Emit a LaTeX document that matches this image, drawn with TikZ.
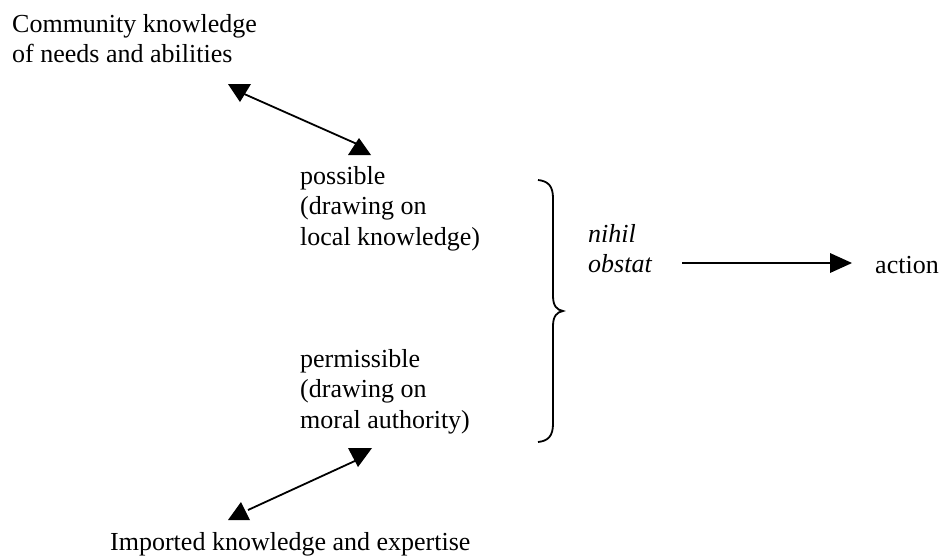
\documentclass[tikz,border=0pt]{standalone}
\usepackage{fontspec}
\setmainfont{Liberation Serif}
\begin{document}
\begin{tikzpicture}[x=1pt,y=-1pt,
  txt/.style={anchor=north west,inner sep=0pt,align=left,font=\fontsize{26}{30.5}\selectfont},
  conn/.style={line width=1.8pt},
  head/.style={fill=black,draw=none}]
\useasboundingbox (0,0) rectangle (942,558);
\node[txt] (comm) at (12,10.65) {\strut Community knowledge\\of needs and abilities};
\node[txt] (poss) at (300,162.65) {\strut possible\\(drawing on\\local knowledge)};
\node[txt] (perm) at (300,345.65) {\strut permissible\\(drawing on\\moral authority)};
\node[txt,font=\fontsize{26}{30}\selectfont\itshape] (nihil) at (588,221.65) {\strut nihil\\obstat};
\node[txt,anchor=base west] (action) at (875,273) {action};
\node[txt,anchor=base west] (imp) at (110,550) {Imported knowledge and expertise};
% connector end points
\coordinate (a1) at (242,93);
\coordinate (a2) at (357,144);
\coordinate (b1) at (357,460);
\coordinate (b2) at (248,510);
\coordinate (c1) at (682,263);
\coordinate (c2) at (831,263);
\draw[conn] (a1) -- (a2);
\draw[conn] (b1) -- (b2);
\draw[conn] (c1) -- (c2);
% arrowheads
\fill[head] (228,84) -- (251,84) -- (240,102) -- cycle;
\fill[head] (348,155) -- (371,155) -- (359,138) -- cycle;
\fill[head] (348,448) -- (372,448) -- (358,467) -- cycle;
\fill[head] (228,520) -- (250,520) -- (241,502) -- cycle;
\fill[head] (830,253) -- (830,273) -- (852,263) -- cycle;
% brace
\draw[line width=1.8pt] (538,180) .. controls (548,181) and (553,186) .. (553,198) -- (553,296)
  .. controls (553,306) and (557,310) .. (563,311)
  .. controls (557,312) and (553,316) .. (553,326) -- (553,424)
  .. controls (553,436) and (548,441) .. (538,442);
\end{tikzpicture}
\end{document}
